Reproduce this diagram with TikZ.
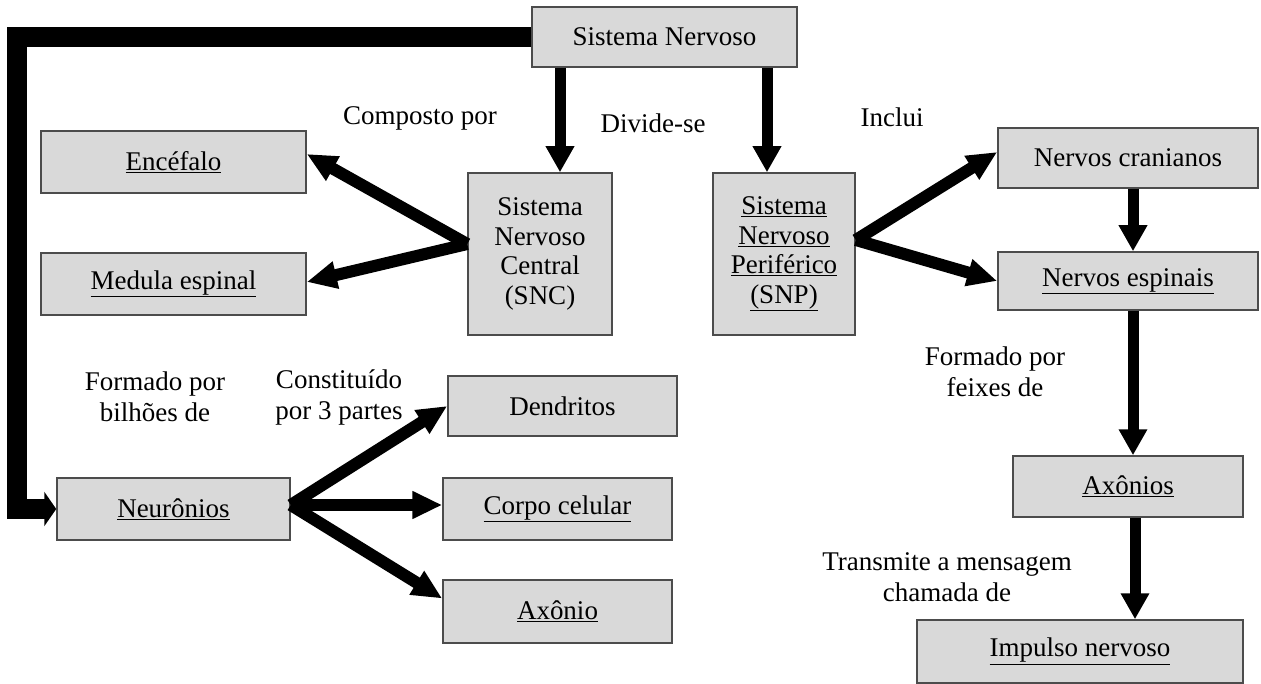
\documentclass[tikz,border=0pt]{standalone}
\usepackage{fontspec}
\setmainfont{Liberation Serif}
\usetikzlibrary{arrows.meta}
\begin{document}
\begin{tikzpicture}[x=1pt,y=-1pt,
  box/.style 2 args={rectangle, draw=black!70, line width=1.5pt, fill=black!15,
    minimum width=#1, minimum height=#2, inner sep=0pt, align=center,
    font=\fontsize{27}{29.5}\selectfont},
  lbl/.style={align=center, inner sep=0pt, font=\fontsize{27}{31}\selectfont},
  arr/.style={line width=11pt, -{Triangle[length=26pt,width=27pt]}},
  darr/.style={line width=12pt, -{Triangle[length=30pt,width=26pt]}},
  bigline/.style={line width=20pt, line join=miter, -{Triangle[length=12pt,width=34pt]}}]
\useasboundingbox (0,0) rectangle (1261,684);

% boxes
\node[box={265pt}{60pt}] (sn) at (664.5,37) {Sistema Nervoso};
\node[box={265pt}{62pt}] (enc) at (173.5,162) {\underline{Encéfalo}};
\node[box={265pt}{62pt}] (med) at (173.5,284) {\underline{Medula espinal}};
\node[box={144pt}{162pt}] (snc) at (540,254) {Sistema\\Nervoso\\Central\\(SNC)};
\node[box={142pt}{162pt}] (snp) at (784,254) {\underline{Sistema}\\\underline{Nervoso}\\\underline{Periférico}\\\underline{(SNP)}};
\node[box={260pt}{60pt}] (cra) at (1128,158) {Nervos cranianos};
\node[box={260pt}{58pt}] (esp) at (1128,281) {\underline{Nervos espinais}};
\node[box={230pt}{61pt}] (axs) at (1128,486.5) {\underline{Axônios}};
\node[box={326pt}{63pt}] (imp) at (1080,651.5) {\underline{Impulso nervoso}};
\node[box={233pt}{62pt}] (neu) at (173.5,509) {\underline{Neurônios}};
\node[box={229pt}{60pt}] (den) at (562.5,406) {Dendritos};
\node[box={229pt}{62pt}] (cor) at (557.5,509) {\underline{Corpo celular}};
\node[box={229pt}{63pt}] (axo) at (557.5,611.5) {\underline{Axônio}};

% labels
\node[lbl] (l1) at (420,118) {Composto por};
\node[lbl] (l2) at (653,123) {Divide-se};
\node[lbl] (l3) at (892,117) {Inclui};
\node[lbl] (l4) at (995,372) {Formado por\\feixes de};
\node[lbl] (l5) at (947,577) {Transmite a mensagem\\chamada de};
\node[lbl] (l6) at (155,397) {Formado por\\bilhões de};
\node[lbl] (l7) at (339,397) {Constituído\\por 3 partes};

% big connector
\coordinate (corner) at (17,509);
\draw[bigline] (sn.west) -| (corner) -- (neu.west);

% vertical arrows
\path ([xshift=20pt]snc.north) coordinate (a1t) (a1t |- sn.south) coordinate (a1s);
\draw[arr] (a1s) -- (a1t);
\path ([xshift=-17pt]snp.north) coordinate (a2t) (a2t |- sn.south) coordinate (a2s);
\draw[arr] (a2s) -- (a2t);
\path ([xshift=5pt]esp.north) coordinate (a3t) (a3t |- cra.south) coordinate (a3s);
\draw[arr] (a3s) -- (a3t);
\path ([xshift=5pt]axs.north) coordinate (a4t) (a4t |- esp.south) coordinate (a4s);
\draw[arr] (a4s) -- (a4t);
\path ([xshift=7pt]axs.south) coordinate (a5s) (a5s |- imp.north) coordinate (a5t);
\draw[arr] (a5s) -- (a5t);

% diagonal arrows
\coordinate (sncL) at ([yshift=10pt]snc.west);
\draw[darr] (sncL) -- ([yshift=8pt]enc.east);
\draw[darr] (sncL) -- ([yshift=2pt]med.east);
\coordinate (snpR) at ([yshift=14pt]snp.east);
\draw[darr] (snpR) -- ([yshift=6pt]cra.west);
\draw[darr] (snpR) -- (esp.west);
\coordinate (neuR) at ([yshift=4pt]neu.east);
\draw[darr] (neuR) -- (den.west);
\draw[darr] (neuR) -- ([yshift=4pt]cor.west);
\draw[darr] (neuR) -- ([yshift=13pt]axo.west);
\end{tikzpicture}
\end{document}
